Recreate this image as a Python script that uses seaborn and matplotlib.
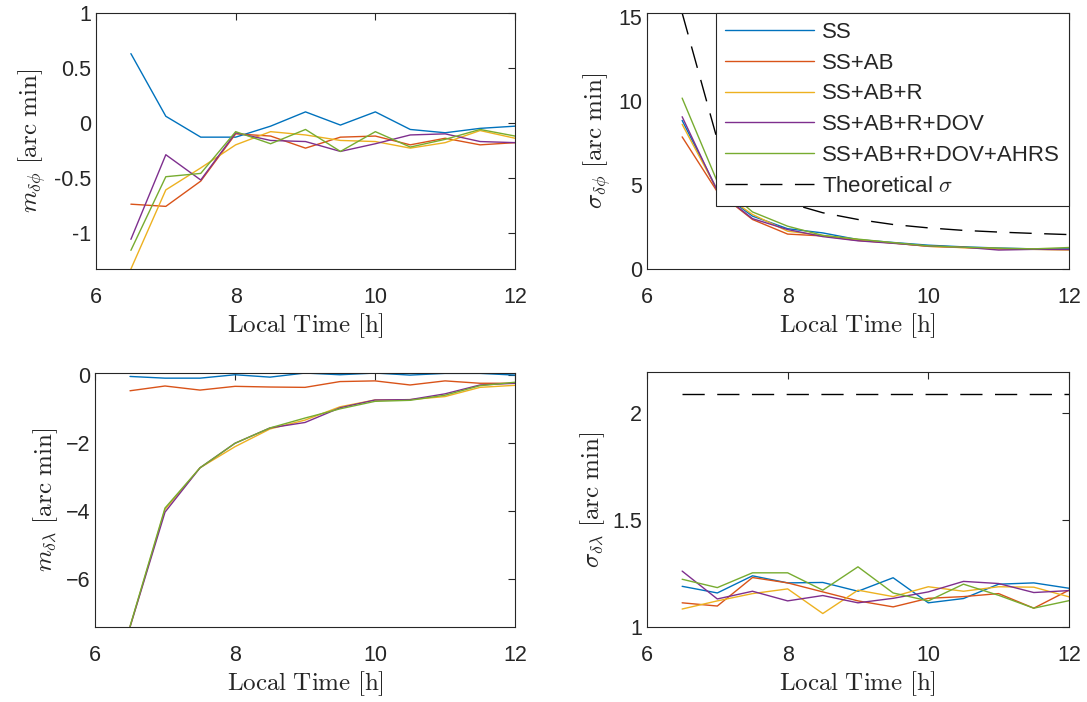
import matplotlib
matplotlib.use('Agg')
import matplotlib.pyplot as plt
import seaborn as sns

sns.set_style('white')
plt.rcParams['font.family'] = ['Liberation Sans', 'DejaVu Sans']
plt.rcParams['mathtext.fontset'] = 'cm'

# data
times = [6.5, 7.0, 7.5, 8.0, 8.5, 9.0, 9.5, 10.0, 10.5, 11.0, 11.5, 12.0]
names = ['SS', 'SS+AB', 'SS+AB+R', 'SS+AB+R+DOV', 'SS+AB+R+DOV+AHRS']
colors = ['#0072BD', '#D95319', '#EDB120', '#7E2F8E', '#77AC30']

m_phi = [
    [0.63, 0.06, -0.13, -0.13, -0.03, 0.10, -0.02, 0.10, -0.06, -0.09, -0.05, -0.03],
    [-0.74, -0.76, -0.53, -0.10, -0.12, -0.23, -0.13, -0.12, -0.20, -0.14, -0.20, -0.18],
    [-1.33, -0.61, -0.41, -0.20, -0.08, -0.11, -0.16, -0.17, -0.23, -0.18, -0.07, -0.14],
    [-1.06, -0.29, -0.52, -0.09, -0.16, -0.17, -0.26, -0.19, -0.11, -0.10, -0.17, -0.18],
    [-1.16, -0.49, -0.46, -0.08, -0.19, -0.06, -0.26, -0.08, -0.22, -0.15, -0.06, -0.12],
]
s_phi = [
    [8.85, 4.70, 3.15, 2.40, 2.15, 1.75, 1.58, 1.42, 1.32, 1.25, 1.20, 1.20],
    [7.87, 4.60, 2.95, 2.08, 1.97, 1.70, 1.55, 1.35, 1.28, 1.20, 1.18, 1.15],
    [8.62, 4.70, 3.25, 2.25, 2.00, 1.75, 1.55, 1.35, 1.27, 1.22, 1.17, 1.14],
    [9.07, 4.65, 3.00, 2.35, 1.93, 1.68, 1.53, 1.37, 1.30, 1.13, 1.17, 1.16],
    [10.18, 5.20, 3.40, 2.55, 2.00, 1.78, 1.57, 1.38, 1.30, 1.24, 1.20, 1.28],
]
theory_phi = [15.25, 7.70, 5.30, 3.95, 3.35, 2.95, 2.65, 2.45, 2.30, 2.20, 2.12, 2.05]

m_lam = [
    [-0.05, -0.10, -0.10, 0.00, -0.07, 0.05, 0.00, 0.05, -0.01, 0.04, 0.04, -0.01],
    [-0.47, -0.33, -0.45, -0.34, -0.36, -0.37, -0.20, -0.18, -0.30, -0.18, -0.25, -0.25],
    [-7.40, -3.95, -2.73, -2.11, -1.59, -1.33, -0.94, -0.74, -0.73, -0.64, -0.37, -0.31],
    [-7.40, -4.03, -2.73, -2.01, -1.56, -1.40, -0.97, -0.74, -0.73, -0.56, -0.30, -0.25],
    [-7.38, -3.91, -2.73, -2.01, -1.56, -1.27, -1.00, -0.78, -0.75, -0.60, -0.32, -0.22],
]
s_lam = [
    [1.190, 1.159, 1.239, 1.206, 1.208, 1.167, 1.230, 1.113, 1.133, 1.200, 1.206, 1.181],
    [1.113, 1.098, 1.231, 1.206, 1.164, 1.122, 1.094, 1.134, 1.142, 1.156, 1.088, 1.172],
    [1.084, 1.122, 1.156, 1.178, 1.063, 1.172, 1.142, 1.188, 1.167, 1.188, 1.186, 1.141],
    [1.261, 1.131, 1.167, 1.122, 1.147, 1.113, 1.134, 1.164, 1.213, 1.203, 1.161, 1.170],
    [1.223, 1.184, 1.253, 1.253, 1.172, 1.281, 1.159, 1.122, 1.200, 1.148, 1.088, 1.123],
]
theory_lam = [2.086, 2.086, 2.086, 2.086, 2.086, 2.086, 2.086, 2.086, 2.086, 2.086, 2.086, 2.086]

axis_grey = '#262626'
dash = (0, (16, 9))

fig = plt.figure(figsize=(10.87, 7.02), dpi=100)
ax_tl = fig.add_axes([0.0883, 0.6168, 0.3855, 0.3647])
ax_tr = fig.add_axes([0.5952, 0.6168, 0.3882, 0.3647])
ax_bl = fig.add_axes([0.0874, 0.1068, 0.3864, 0.3618])
ax_br = fig.add_axes([0.5952, 0.1068, 0.3882, 0.3632])


def draw(ax, series, theory=None):
    for vals, name, c in zip(series, names, colors):
        sns.lineplot(x=times, y=vals, ax=ax, color=c, linewidth=1.0, label=name, legend=False)
    if theory is not None:
        sns.lineplot(x=times, y=theory, ax=ax, color='k', linewidth=1.0, linestyle=dash,
                     label=r'Theoretical $\sigma$', legend=False)
    ax.set_xlim(6, 12)
    ax.set_xticks([6, 8, 10, 12])
    ax.set_xlabel(r'$\mathrm{Local\ Time\ [h]}$', fontsize=18, color=axis_grey, labelpad=2)
    ax.tick_params(direction='in', top=True, right=True, length=5, width=0.8,
                   colors=axis_grey, labelsize=15.5)
    ax.tick_params(axis='x', pad=13)
    for sp in ax.spines.values():
        sp.set_color(axis_grey)
        sp.set_linewidth(0.8)


draw(ax_tl, m_phi)
ax_tl.set_ylim(-1.33, 1)
ax_tl.set_yticks([-1, -0.5, 0, 0.5, 1])
ax_tl.set_yticklabels(['-1', '-0.5', '0', '0.5', '1'])
ax_tl.set_ylabel(r'$m_{\delta\phi}\ \mathrm{[arc\ min]}$', fontsize=18, color=axis_grey)

draw(ax_tr, s_phi, theory_phi)
ax_tr.set_ylim(0, 15.25)
ax_tr.set_yticks([0, 5, 10, 15])
ax_tr.set_ylabel(r'$\sigma_{\delta\phi}\ \mathrm{[arc\ min]}$', fontsize=18, color=axis_grey)
leg = ax_tr.legend(loc='upper right', bbox_to_anchor=(1, 1), borderaxespad=0,
                   frameon=True, fancybox=False, framealpha=1, edgecolor=axis_grey,
                   fontsize=16, handlelength=4.0, handletextpad=0.36,
                   labelspacing=0.44, borderpad=0.4)
leg.get_frame().set_linewidth(0.8)

draw(ax_bl, m_lam)
ax_bl.set_ylim(-7.4, 0.05)
ax_bl.set_yticks([-6, -4, -2, 0])
ax_bl.set_ylabel(r'$m_{\delta\lambda}\ \mathrm{[arc\ min]}$', fontsize=18, color=axis_grey)

draw(ax_br, s_lam, theory_lam)
ax_br.set_ylim(1, 2.19)
ax_br.set_yticks([1, 1.5, 2])
ax_br.set_yticklabels(['1', '1.5', '2'])
ax_br.set_ylabel(r'$\sigma_{\delta\lambda}\ \mathrm{[arc\ min]}$', fontsize=18, color=axis_grey)

fig.savefig('out.png', dpi=100)
